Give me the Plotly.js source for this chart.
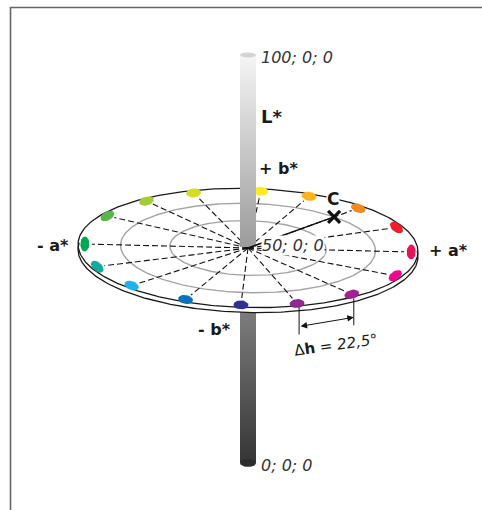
<!DOCTYPE html>
<html><head><meta charset="utf-8">
<script src="https://cdn.plot.ly/plotly-3.0.1.min.js"></script>
<style>html,body{margin:0;padding:0;background:#fff}#chart{width:482px;height:510px}</style>
</head><body><div id="chart"></div>
<script>
// ---------------- data ----------------
const hueAngles = [0, 25, 48, 68.5, 86, 110, 129, 150, 180, 203, 225, 248, 268, 288, 310, 335]; // hue angle of each dot as drawn (deg)
const hueColors = ['#e8145a', '#ee2027', '#f4871f', '#fbb41a', '#fbed21', '#d3dd26', '#a3cc3a', '#57b848',
                   '#00a651', '#12aa9c', '#1fb1ea', '#0a72b8', '#2e3192', '#8c2a8f', '#a1238f', '#ea0a8c'];
const ringChroma = [46, 75];            // grey reference circles
const dotChroma = 96;                   // chroma of the hue dots
const diskChroma = 100;                 // disk edge
const lightnessLevels = [100, 50, 0];
const lightnessLabels = ['100; 0; 0', '50; 0; 0', '0; 0; 0'];
const sampleHue = 48, sampleChroma = 75; // the "X" point (C arrow)
const deltaHueLabel = '22,5°';
const deltaHuePair = [13, 14];          // indices of the dots used for the Δh dimension
const axisLabels = ['+ a*', '+ b*', '- a*', '- b*', 'L*', 'C'];

// ---------------- projection ----------------
const CX = 248, CY = 248, SX = 1.70, SY = 0.595, TILT = 1.4 * Math.PI / 180, RIM = 5;
const deg = Math.PI / 180;
function proj(C, h, dy) {
  dy = dy || 0;
  const t = h * deg, X = C * SX * Math.cos(t), Y = -C * SY * Math.sin(t);
  return [CX + X * Math.cos(TILT) - Y * Math.sin(TILT), CY + X * Math.sin(TILT) + Y * Math.cos(TILT) + dy];
}
function arc(C, h0, h1, dy, n) {
  n = n || 180; const xs = [], ys = [];
  for (let i = 0; i <= n; i++) { const p = proj(C, h0 + (h1 - h0) * i / n, dy); xs.push(p[0]); ys.push(p[1]); }
  return [xs, ys];
}
const POLE_TOP = 55, POLE_MID = CY, POLE_BOT = 463, POLE_X0 = 240, POLE_X1 = 256;
function lY(L) { return L >= 50 ? POLE_MID - (L - 50) * (POLE_MID - POLE_TOP) / 50 : POLE_MID + (50 - L) * (POLE_BOT - POLE_MID) / 50; }
function grey(y) { return 244 - 0.47 * (y - 57); }
function poleHeat(y0, y1, axx, axy) {
  const ys = [], z = [];
  for (let y = y0; y <= y1 + 0.001; y += 2) ys.push(y);
  for (let i = 0; i < ys.length - 1; i++) z.push([grey((ys[i] + ys[i + 1]) / 2)]);
  return { type: 'heatmap', x: [POLE_X0, POLE_X1], y: ys, z: z, zmin: 0, zmax: 255,
    colorscale: [[0, 'rgb(0,0,0)'], [1, 'rgb(255,255,255)']], showscale: false, hoverinfo: 'skip',
    xaxis: axx, yaxis: axy };
}
function ellipsePts(cx, cy, rx, ry, n) {
  const xs = [], ys = []; n = n || 40;
  for (let i = 0; i <= n; i++) { const s = 2 * Math.PI * i / n; xs.push(cx + rx * Math.cos(s)); ys.push(cy + ry * Math.sin(s)); }
  return [xs, ys];
}

const traces = [];
// ---- layer 1: full pole ----
traces.push(poleHeat(lY(100), lY(0), 'x', 'y'));
{ const e = ellipsePts((POLE_X0 + POLE_X1) / 2, lY(0), 8, 4);
  traces.push({ type: 'scatter', mode: 'lines', x: e[0], y: e[1], fill: 'toself', fillcolor: 'rgb(45,45,45)', line: { width: 0 }, hoverinfo: 'skip', xaxis: 'x', yaxis: 'y' }); }

// ---- layer 2: disk ----
{ const a = arc(diskChroma, 0, 180, 0), b = arc(diskChroma, 180, 360, RIM);
  traces.push({ type: 'scatter', mode: 'lines', x: a[0].concat(b[0]), y: a[1].concat(b[1]), fill: 'toself', fillcolor: '#ffffff', line: { width: 0 }, hoverinfo: 'skip', xaxis: 'x2', yaxis: 'y2' });
  const r = arc(diskChroma, 174, 366, RIM);
  traces.push({ type: 'scatter', mode: 'lines', x: r[0], y: r[1], line: { color: '#1a1a1a', width: 1.3 }, hoverinfo: 'skip', xaxis: 'x2', yaxis: 'y2' });
  const o = arc(diskChroma, 0, 360, 0, 360);
  traces.push({ type: 'scatter', mode: 'lines', x: o[0], y: o[1], line: { color: '#1a1a1a', width: 1.3 }, hoverinfo: 'skip', xaxis: 'x2', yaxis: 'y2' });
}
ringChroma.forEach(c => {
  const o = arc(c, 0, 360, 0, 360);
  traces.push({ type: 'scatter', mode: 'lines', x: o[0], y: o[1], line: { color: '#a3a3a3', width: 1.4 }, hoverinfo: 'skip', xaxis: 'x2', yaxis: 'y2' });
});
hueAngles.forEach(h => {
  const p = proj(dotChroma, h), dx = p[0] - CX, dy = p[1] - CY, L = Math.hypot(dx, dy), k = (L - 7) / L;
  traces.push({ type: 'scatter', mode: 'lines', x: [CX, CX + dx * k], y: [CY, CY + dy * k], line: { color: '#111', width: 1.1, dash: '6px,3px' }, hoverinfo: 'skip', xaxis: 'x2', yaxis: 'y2' });
});
hueAngles.forEach((h, i) => {
  const p = proj(dotChroma, h), p1 = proj(dotChroma, h + 0.5), p0 = proj(dotChroma, h - 0.5);
  let tx = p1[0] - p0[0], ty = p1[1] - p0[1]; const tl = Math.hypot(tx, ty); tx /= tl; ty /= tl;
  const nx = -ty, ny = tx, xs = [], ys = [];
  for (let j = 0; j <= 28; j++) { const s = 2 * Math.PI * j / 28; xs.push(p[0] + 7.4 * Math.cos(s) * tx + 4.5 * Math.sin(s) * nx); ys.push(p[1] + 7.4 * Math.cos(s) * ty + 4.5 * Math.sin(s) * ny); }
  traces.push({ type: 'scatter', mode: 'lines', x: xs, y: ys, fill: 'toself', fillcolor: hueColors[i], line: { width: 0 }, hoverinfo: 'skip', xaxis: 'x2', yaxis: 'y2' });
});

// ---- layer 3: upper pole, C arrow, dimension lines ----
traces.push(poleHeat(lY(100), lY(50), 'x3', 'y3'));
{ const e = ellipsePts((POLE_X0 + POLE_X1) / 2, lY(100), 8, 2.6);
  traces.push({ type: 'scatter', mode: 'lines', x: e[0], y: e[1], fill: 'toself', fillcolor: '#d3d3d3', line: { width: 0 }, hoverinfo: 'skip', xaxis: 'x3', yaxis: 'y3' }); }
const sp = proj(sampleChroma, sampleHue);
traces.push({ type: 'scatter', mode: 'lines', x: [CX, sp[0]], y: [CY, sp[1]], line: { color: '#111', width: 1.4 }, hoverinfo: 'skip', xaxis: 'x3', yaxis: 'y3' });
traces.push({ type: 'scatter', mode: 'markers', x: [sp[0]], y: [sp[1]], marker: { symbol: 'x-thin-open', size: 12, color: '#111', line: { color: '#111', width: 3.2 } }, hoverinfo: 'skip', xaxis: 'x3', yaxis: 'y3' });
const dA = proj(dotChroma, hueAngles[deltaHuePair[0]]), dB = proj(dotChroma, hueAngles[deltaHuePair[1]]);
[dA, dB].forEach(p => {
  traces.push({ type: 'scatter', mode: 'lines', x: [p[0] + 2, p[0] + 2], y: [p[1] + 4, p[1] + 31], line: { color: '#111', width: 1 }, hoverinfo: 'skip', xaxis: 'x3', yaxis: 'y3' });
});

const ax = r => ({ range: r, visible: false, showgrid: false, zeroline: false, fixedrange: true });
const italic = { family: 'DejaVu Sans', size: 16, color: '#333', style: 'italic' };
const bold = { family: 'DejaVu Sans', size: 16, color: '#1a1a1a', weight: 'bold' };
const annotations = [
  { x: 259, y: lY(lightnessLevels[0]) + 2.5, text: lightnessLabels[0], xanchor: 'left', font: italic },
  { x: 261, y: lY(lightnessLevels[1]) - 3, text: lightnessLabels[1], xanchor: 'left', font: italic, bgcolor: '#ffffff', borderpad: 0 },
  { x: 259, y: lY(lightnessLevels[2]) + 2, text: lightnessLabels[2], xanchor: 'left', font: italic },
  { x: 427, y: 250, text: axisLabels[0], xanchor: 'left', font: bold },
  { x: 257, y: 168, text: axisLabels[1], xanchor: 'left', font: bold },
  { x: 71, y: 245, text: axisLabels[2], xanchor: 'right', font: bold },
  { x: 233, y: 329, text: axisLabels[3], xanchor: 'right', font: bold },
  { x: 259, y: 116, text: axisLabels[4], xanchor: 'left', font: Object.assign({}, bold, { size: 18 }) },
  { x: 333, y: 199, text: axisLabels[5], font: Object.assign({}, bold, { size: 17 }), bgcolor: '#ffffff', borderpad: 0 },
  { x: 336, y: 345, text: 'Δ<b>h</b> <i>= ' + deltaHueLabel + '</i>', textangle: -8, font: { family: 'DejaVu Sans', size: 15, color: '#1a1a1a' } },
  { x: dB[0] + 2, y: dB[1] + 23, ax: dA[0] + 2, ay: dA[1] + 23, axref: 'x', ayref: 'y', text: '', showarrow: true,
    arrowside: 'end+start', arrowhead: 2, arrowsize: 1.3, arrowwidth: 1, arrowcolor: '#111', standoff: 0, startstandoff: 0 }
];
annotations.forEach(a => { if (!('showarrow' in a)) a.showarrow = false; a.xref = 'x'; a.yref = 'y'; });

const layout = {
  width: 482, height: 510, margin: { l: 0, r: 0, t: 0, b: 0 },
  paper_bgcolor: '#ffffff', plot_bgcolor: '#ffffff', showlegend: false,
  xaxis: ax([0, 482]), yaxis: ax([510, 0]),
  xaxis2: Object.assign(ax([0, 482]), { overlaying: 'x', anchor: 'y2' }), yaxis2: Object.assign(ax([510, 0]), { overlaying: 'y', anchor: 'x2' }),
  xaxis3: Object.assign(ax([0, 482]), { overlaying: 'x', anchor: 'y3' }), yaxis3: Object.assign(ax([510, 0]), { overlaying: 'y', anchor: 'x3' }),
  shapes: [
    { type: 'line', xref: 'x', yref: 'y', x0: 10.5, x1: 10.5, y0: 7, y1: 512, line: { color: '#666', width: 1.6 }, layer: 'above' },
    { type: 'line', xref: 'x', yref: 'y', x0: 10, x1: 484, y0: 7.5, y1: 7.5, line: { color: '#666', width: 1.6 }, layer: 'above' }
  ],
  annotations: annotations
};
Plotly.newPlot('chart', traces, layout, { staticPlot: true, displayModeBar: false });
</script></body></html>
